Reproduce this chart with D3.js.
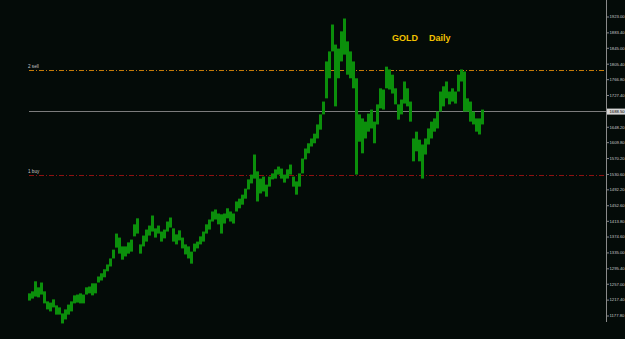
<!DOCTYPE html>
<meta charset="utf-8">
<head>
<style>
body {
  margin: 0;
  background-color: #040b08;
}
svg { display: block; }
</style>
</head>

<script src="https://d3js.org/d3.v7.min.js"></script>

<div id="chart"></div>

<script>

// daily bars, high / low per column
var highs = [1233,1238,1263,1248,1260,1238,1213,1210,1218,1203,1198,1183,1193,1205,1213,1228,1230,1233,1230,1248,
  1250,1258,1258,1275,1283,1293,1305,1320,1342,1382,1372,1350,1350,1360,1367,1405,1420,1355,1377,1392,
  1402,1427,1395,1402,1387,1392,1412,1422,1395,1380,1390,1372,1355,1350,1337,1357,1362,1375,1387,1405,
  1417,1437,1442,1432,1430,1432,1445,1437,1432,1462,1469,1479,1494,1517,1529,1579,1537,1519,1524,1504,
  1524,1532,1542,1549,1544,1529,1542,1554,1524,1512,1532,1569,1594,1607,1619,1631,1654,1679,1711,1811,
  1836,1903,1853,1843,1886,1918,1861,1836,1811,1769,1679,1669,1661,1681,1691,1661,1704,1744,1741,1798,
  1791,1778,1744,1704,1716,1761,1744,1711,1619,1636,1616,1604,1619,1644,1661,1669,1686,1736,1749,1761,
  1736,1744,1736,1778,1791,1786,1719,1711,1686,1669,1669,1691];
var lows = [1215,1220,1225,1223,1230,1208,1193,1188,1198,1180,1180,1158,1168,1180,1188,1208,1210,1208,1208,1230,
  1233,1228,1233,1260,1265,1273,1288,1300,1320,1347,1332,1317,1325,1332,1337,1375,1382,1332,1350,1362,
  1377,1387,1372,1382,1362,1370,1387,1397,1362,1355,1365,1345,1330,1320,1307,1337,1345,1355,1362,1382,
  1392,1412,1417,1405,1382,1407,1420,1412,1407,1437,1445,1454,1469,1492,1507,1519,1462,1482,1487,1474,
  1499,1517,1519,1529,1519,1509,1519,1529,1499,1479,1499,1532,1567,1582,1599,1607,1619,1641,1679,1719,
  1769,1836,1699,1769,1811,1828,1778,1769,1744,1529,1611,1582,1619,1636,1644,1607,1654,1694,1691,1744,
  1741,1731,1704,1666,1679,1706,1699,1661,1562,1587,1562,1519,1579,1604,1619,1636,1644,1686,1699,1719,
  1704,1711,1706,1736,1761,1686,1686,1661,1654,1636,1629,1654];

var tickValues = [1923.00, 1883.40, 1845.00, 1805.40, 1766.80, 1727.40, 1648.20, 1609.80, 1570.20,
  1530.60, 1492.20, 1452.60, 1413.80, 1374.60, 1335.00, 1295.40, 1257.00, 1217.40, 1177.80];
var bidPrice = 1688.50;
var levelNames = ["2 sell", "1 buy"];
var levelPrices = [1788, 1526];
var title = ["GOLD", "Daily"];

var width = 625, height = 339;
var font = "Liberation Sans, Arial, sans-serif";

var svg = d3.select("#chart")
  .append("svg")
    .attr("width", width)
    .attr("height", height);

svg.append("rect")
  .attr("width", width)
  .attr("height", height)
  .attr("fill", "#040b08");

var y = d3.scaleLinear()
  .domain([1177.8, 1923])
  .range([315.5, 16.5]);

var x = d3.scaleBand()
  .domain(d3.range(highs.length))
  .range([28, 484])
  .padding(0);

// bid line
svg.append("line")
  .attr("x1", 29).attr("x2", 606)
  .attr("y1", Math.round(y(bidPrice)) + 0.5)
  .attr("y2", Math.round(y(bidPrice)) + 0.5)
  .attr("stroke", "#7c7c7c")
  .attr("stroke-width", 1);

// sell / buy levels
var levelColors = ["#c87d08", "#8e1010"];
levelPrices.forEach(function(p, i) {
  var ly = Math.round(y(p)) - 0.5;
  svg.append("line")
    .attr("x1", 29).attr("x2", 606)
    .attr("y1", ly).attr("y2", ly)
    .attr("stroke", levelColors[i])
    .attr("stroke-width", 1)
    .attr("stroke-dasharray", "5,2,1,2");
  svg.append("text")
    .attr("x", 28)
    .attr("y", ly - 2.5)
    .attr("font-family", font)
    .attr("font-size", "4.6px")
    .attr("fill", "#c8c8c8")
    .text(levelNames[i]);
});

// bars
svg.selectAll("rect.bar")
  .data(highs)
  .enter()
  .append("rect")
    .attr("class", "bar")
    .attr("x", function(d, i) { return x(i); })
    .attr("width", x.bandwidth())
    .attr("y", function(d) { return y(d); })
    .attr("height", function(d, i) { return Math.max(1, y(lows[i]) - y(d)); })
    .attr("fill", "#0b8f0b");

// right price axis
svg.append("line")
  .attr("x1", 606.5).attr("x2", 606.5)
  .attr("y1", 0).attr("y2", 322)
  .attr("stroke", "#8a8a8a");

var axis = svg.append("g")
  .attr("transform", "translate(606.5,0)")
  .call(d3.axisRight(y)
    .tickValues(tickValues)
    .tickSize(2.5)
    .tickPadding(0.5)
    .tickFormat(d3.format(".2f")));

axis.select(".domain").remove();
axis.selectAll("line").attr("stroke", "#8a8a8a");
axis.selectAll("text")
  .attr("font-family", font)
  .attr("font-size", "4.2px")
  .attr("fill", "#c8c8c8");

// bid price label
var by = y(bidPrice) + 1;
svg.append("rect")
  .attr("x", 607).attr("y", by - 3)
  .attr("width", 18).attr("height", 6)
  .attr("fill", "#d6d6d6");
svg.append("text")
  .attr("x", 609.5).attr("y", by)
  .attr("dy", "0.32em")
  .attr("font-family", font)
  .attr("font-size", "4.2px")
  .attr("fill", "#000")
  .text(d3.format(".2f")(bidPrice));

// title
svg.append("text")
  .attr("x", 392).attr("y", 40.5)
  .attr("font-family", font)
  .attr("font-size", "9px")
  .attr("font-weight", "bold")
  .attr("fill", "#f2c200")
  .text(title[0]);
svg.append("text")
  .attr("x", 429).attr("y", 40.5)
  .attr("font-family", font)
  .attr("font-size", "9px")
  .attr("font-weight", "bold")
  .attr("fill", "#f2c200")
  .text(title[1]);

</script>
